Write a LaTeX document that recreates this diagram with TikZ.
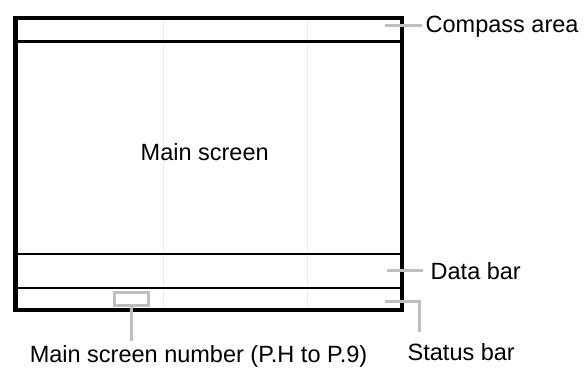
\documentclass[tikz,border=0pt]{standalone}
\usepackage{fontspec}
\setmainfont{Liberation Sans}
\begin{document}
\begin{tikzpicture}[x=1pt,y=-1pt,
  lbl/.style={inner sep=0pt,font=\fontsize{23.5}{28}\selectfont},
  frame/.style={line width=4.5pt,line join=miter},
  divider/.style={line width=2.6pt},
  faint/.style={line width=0.6pt,black!7},
  leader/.style={line width=3pt,draw=black!25}]
\useasboundingbox (0,0) rectangle (585,368);
% faint guide lines
\coordinate (f1t) at (163.5,18); \coordinate (f1b) at (163.5,310);
\coordinate (f2t) at (307.5,18); \coordinate (f2b) at (307.5,310);
\draw[faint] (f1t) -- (f1b);
\draw[faint] (f2t) -- (f2b);
% frame
\coordinate (tl) at (15.5,18); \coordinate (br) at (402,310);
\draw[frame] (tl) rectangle (br);
\coordinate (c1l) at (15.5,41.3); \coordinate (c1r) at (402,41.3);
\coordinate (d1l) at (15.5,254); \coordinate (d1r) at (402,254);
\coordinate (s1l) at (15.5,288); \coordinate (s1r) at (402,288);
\draw[divider] (c1l) -- (c1r);
\draw[divider] (d1l) -- (d1r);
\draw[divider] (s1l) -- (s1r);
% texts
\node[lbl,anchor=base west] (main) at (140.5,160.7) {Main screen};
\node[lbl,anchor=base west] (compass) at (425.5,32.5) {Compass area};
\node[lbl,anchor=base west] (data) at (430.5,279) {Data bar};
\node[lbl,anchor=base west] (status) at (407.5,360.5) {Status bar};
\node[lbl,anchor=base] (number) at (198.5,362.5) {Main screen number (P.H to P.9)};
% leaders
\coordinate (cA) at (385,25); \coordinate (cB) at (421.5,25);
\draw[leader] (cA) -- (cB);
\coordinate (dA) at (387,270); \coordinate (dB) at (423,270);
\draw[leader] (dA) -- (dB);
\coordinate (sA) at (385,301.7); \coordinate (sB) at (419.5,301.7); \coordinate (sC) at (419.5,331.7);
\draw[leader,line join=miter] (sA) -- (sB) -- (sC);
\coordinate (nA) at (114.5,292.5); \coordinate (nB) at (148.5,305.5);
\draw[leader] (nA) rectangle (nB);
\coordinate (nC) at (131.5,307); \coordinate (nD) at (131.5,340.7);
\draw[leader] (nC) -- (nD);
\end{tikzpicture}
\end{document}
